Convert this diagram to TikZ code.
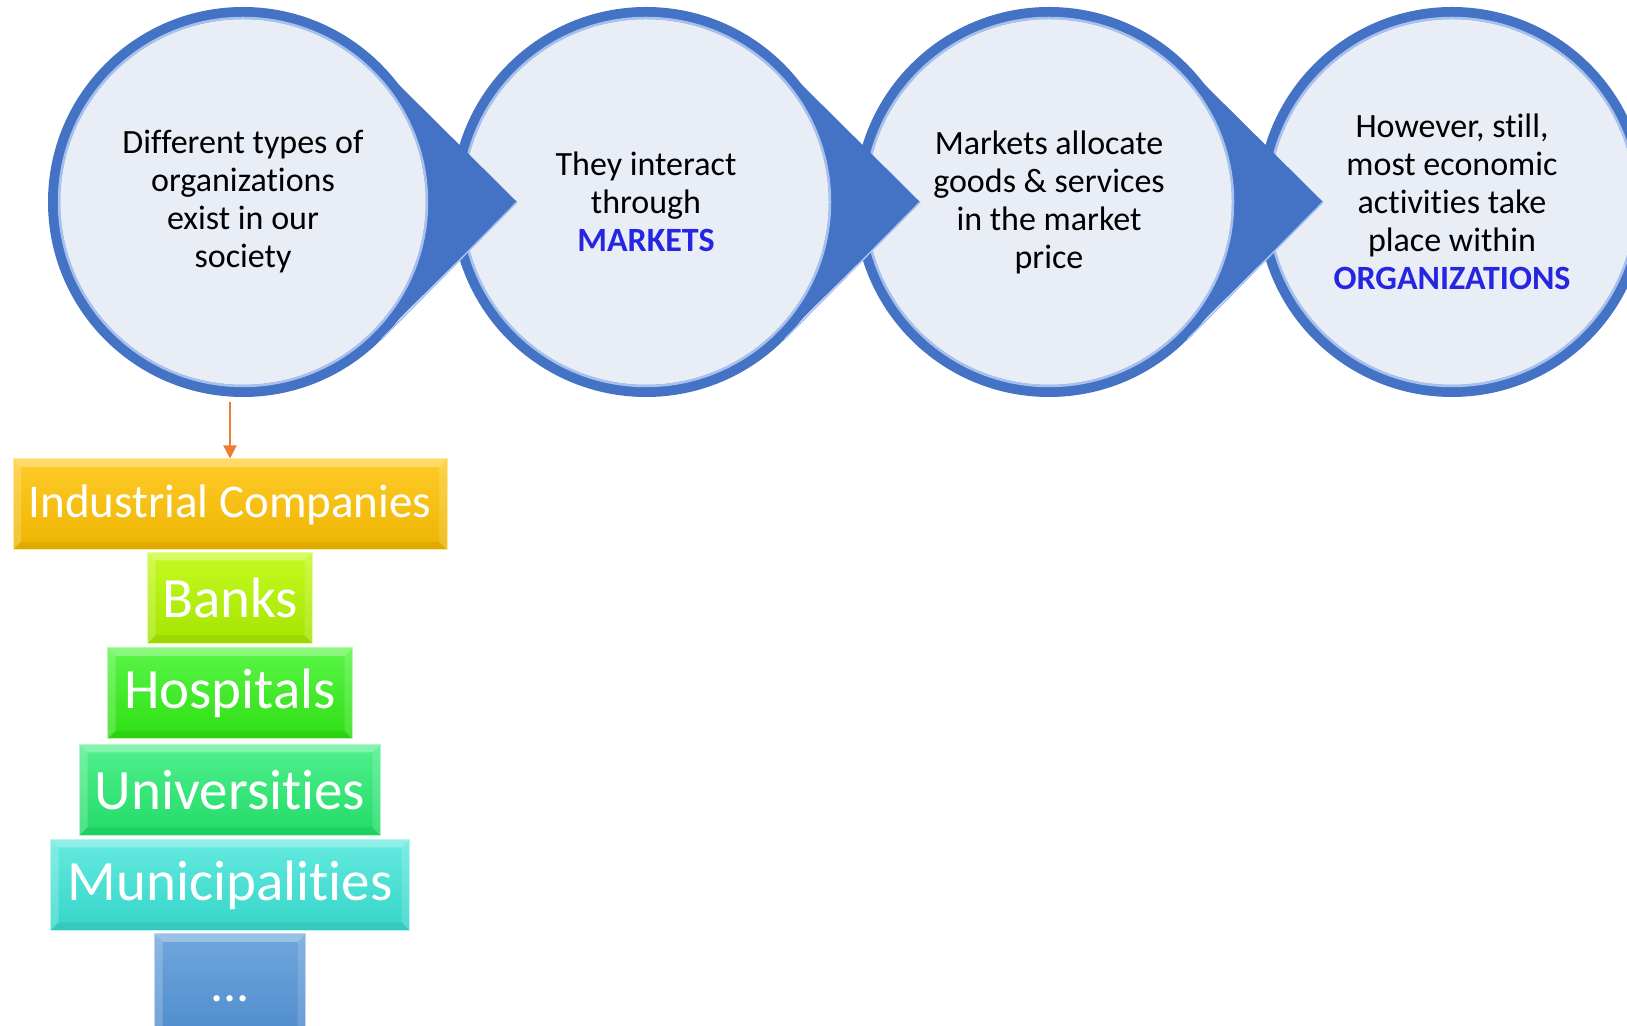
\documentclass[tikz,border=0pt]{standalone}
\usepackage{fontspec}
\setmainfont{Carlito}[Ligatures=NoCommon]
\usepackage{xcolor}
\usetikzlibrary{calc,arrows.meta}

\definecolor{ringblue}{HTML}{4472C4}
\definecolor{ringlight}{HTML}{A6C1EE}
\definecolor{bubblefill}{HTML}{E9EDF6}
\definecolor{keyblue}{HTML}{2626E0}
\definecolor{linkorange}{HTML}{ED7D31}
\definecolor{indtop}{HTML}{FFCB2A}
\definecolor{indbot}{HTML}{EDB400}
\definecolor{banktop}{HTML}{C6FA22}
\definecolor{bankbot}{HTML}{A4E400}
\definecolor{hosptop}{HTML}{5AF547}
\definecolor{hospbot}{HTML}{2EDF12}
\definecolor{univtop}{HTML}{50F08C}
\definecolor{univbot}{HTML}{22DB68}
\definecolor{munitop}{HTML}{64EAE0}
\definecolor{munibot}{HTML}{36D5C8}
\definecolor{moretop}{HTML}{6FA6DC}
\definecolor{morebot}{HTML}{4785CA}

\newcommand{\keyword}[1]{{\bfseries\color{keyblue}#1}}

\begin{document}
\begin{tikzpicture}[x=1pt,y=1pt,
    bubble/.style={circle,draw=ringblue,fill=bubblefill,line width=12pt,minimum size=378pt,
        inner sep=0pt,outer sep=6pt,align=center,font=\fontsize{34}{38}\selectfont},
    orgbox/.style 2 args={rectangle,top color=#1,bottom color=#2,draw=#1!45!white,line width=1pt,
        text=white,inner sep=0pt,minimum height=91pt,
        path picture={
            \path (path picture bounding box.south west) coordinate (bl)
                  (path picture bounding box.north east) coordinate (tr);
            \fill[white,opacity=.3] (bl|-tr) -- (tr) -- ($(tr)+(-8,-8)$) -- ($(bl|-tr)+(8,-8)$) -- cycle;
            \fill[white,opacity=.2] (bl) -- (bl|-tr) -- ($(bl|-tr)+(8,-8)$) -- ($(bl)+(8,8)$) -- cycle;
            \fill[white,opacity=.15] (tr) -- (tr|-bl) -- ($(tr|-bl)+(-8,8)$) -- ($(tr)+(-8,-8)$) -- cycle;
            \fill[black,opacity=.06] (bl) -- (tr|-bl) -- ($(tr|-bl)+(-8,8)$) -- ($(bl)+(8,8)$) -- cycle;
        }},
  ]
  \useasboundingbox (0,0) rectangle (1627,1025);
  \clip (0,0) rectangle (1627,1025);

  % bubbles
  \node[bubble] (c1) at (243,823) {Different types of\\organizations\\exist in our\\society};
  \node[bubble] (c2) at (646,823) {They interact\\through\\\keyword{MARKETS}};
  \node[bubble] (c3) at (1049,823) {Markets allocate\\goods \& services\\in the market\\price};
  \node[bubble] (c4) at (1452,823) {However, still,\\most economic\\activities take\\place within\\\keyword{ORGANIZATIONS}};
  \foreach \i in {1,...,4} \draw[ringlight,line width=2.5pt] (c\i.center) circle (184);

  % pointed ends
  \foreach \i in {1,2,3}{
    \coordinate (t\i) at ($(c\i.center)+(274,0)$);
    \fill[ringblue] (t\i) -- ($(c\i.center)+(44.6:193)$) arc[start angle=44.6,end angle=-44.6,radius=193] -- cycle;
    \draw[ringlight,line width=1.5pt] ($(c\i.center)+(-44.6:195)$) -- (t\i);
  }

  % kinds of organizations
  \node[orgbox={indtop}{indbot},minimum width=434pt,font=\fontsize{47}{56}\selectfont] (ind) at (230,520.5) {Industrial Companies};
  \node[orgbox={banktop}{bankbot},minimum width=165pt,font=\fontsize{57}{68}\selectfont] (bank) at (230,427) {Banks};
  \node[orgbox={hosptop}{hospbot},minimum width=245pt,font=\fontsize{57}{68}\selectfont] (hosp) at (230,331.5) {Hospitals};
  \node[orgbox={univtop}{univbot},minimum width=301pt,font=\fontsize{57}{68}\selectfont] (univ) at (230,235) {Universities};
  \node[orgbox={munitop}{munibot},minimum width=359pt,font=\fontsize{57}{68}\selectfont] (muni) at (230,140) {Municipalities};
  \node[orgbox={moretop}{morebot},minimum width=151pt,minimum height=130pt,font=\fontsize{52}{60}\selectfont] (more) at (230,26) {...};

  \draw[linkorange,line width=2pt,-{Triangle[length=13pt,width=13pt]},shorten <=5pt] (c1.south -| ind.north) -- (ind.north);
\end{tikzpicture}
\end{document}
